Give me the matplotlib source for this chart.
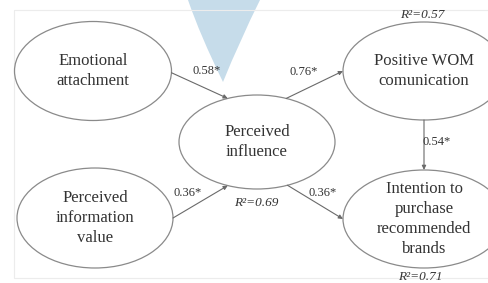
import numpy as np
import matplotlib
matplotlib.use("Agg")
import matplotlib.pyplot as plt
from matplotlib.patches import Ellipse, PathPatch, Rectangle
from matplotlib.path import Path

plt.rcParams['font.family'] = ['Liberation Serif', 'DejaVu Serif']

# constructs of the model
node_labels = ["Emotional\nattachment",
               "Perceived\ninformation\nvalue",
               "Perceived\ninfluence",
               "Positive WOM\ncomunication",
               "Intention to\npurchase\nrecommended\nbrands"]
# path coefficients (source, target, value)
path_from = [0, 1, 2, 2, 3]
path_to = [2, 2, 3, 4, 4]
path_coef = ["0.58*", "0.36*", "0.76*", "0.36*", "0.54*"]
# explained variance
r2_nodes = [3, 2, 4]
r2_values = ["0.57", "0.69", "0.71"]

# layout (pixel space, y downwards)
centers = [(93, 71), (95, 218), (257, 142), (424, 71), (424, 219)]
sizes = [(157, 99), (156, 100), (156, 94), (162, 98), (162, 98)]
# angles (deg) where each path leaves the source / enters the target
ang_from = [2, 0, -68, 67, 90]
ang_to = [-112, 112, 180, 180, -90]
coef_pos = [(207, 71), (188, 193), (304, 72), (323, 193), (437, 142)]
r2_pos = [(422, 15), (256, 203), (420, 277)]

line_col = "#8a8a8a"
text_col = "#333333"


def on_ellipse(i, ang):
    cx, cy = centers[i]
    w, h = sizes[i]
    t = np.deg2rad(ang)
    return cx + w / 2 * np.cos(t), cy + h / 2 * np.sin(t)


fig = plt.figure(figsize=(4.88, 2.83), dpi=100)
ax = fig.add_axes([0, 0, 1, 1])
ax.set_xlim(0, 488)
ax.set_ylim(283, 0)
ax.axis('off')

# faint frame
ax.add_patch(Rectangle((14, 10), 500, 268, fill=False, ec="#ececec", lw=0.8))

# light blue marker shape at the top
verts = [(188, 0), (200, 35), (223, 82), (240, 40), (260, 0), (188, 0)]
codes = [Path.MOVETO, Path.CURVE3, Path.CURVE3, Path.CURVE3, Path.CURVE3, Path.CLOSEPOLY]
ax.add_patch(PathPatch(Path(verts, codes), fc="#c6dcea", ec="none", zorder=0))

# ellipses and their labels
for i, lab in enumerate(node_labels):
    ax.add_patch(Ellipse(centers[i], sizes[i][0], sizes[i][1], fill=False,
                         ec=line_col, lw=0.9, zorder=2))
    ax.text(centers[i][0], centers[i][1], lab, ha='center', va='center',
            fontsize=12, color=text_col, linespacing=1.35, zorder=3)

# paths
for k in range(len(path_coef)):
    p0 = on_ellipse(path_from[k], ang_from[k])
    p1 = on_ellipse(path_to[k], ang_to[k])
    ax.annotate("", xy=p1, xytext=p0,
                arrowprops=dict(arrowstyle="-|>,head_length=0.25,head_width=0.12",
                                color="#6a6a6a", lw=0.8, shrinkA=0, shrinkB=0))
    ax.text(coef_pos[k][0], coef_pos[k][1], path_coef[k], ha='center', va='center',
            fontsize=9, color=text_col)

# R squared
for n, v, pos in zip(r2_nodes, r2_values, r2_pos):
    ax.text(pos[0], pos[1], "R\u00b2=" + v, ha='center', va='center',
            fontsize=9.5, style='italic', color=text_col)

fig.savefig("out.png", dpi=100)
